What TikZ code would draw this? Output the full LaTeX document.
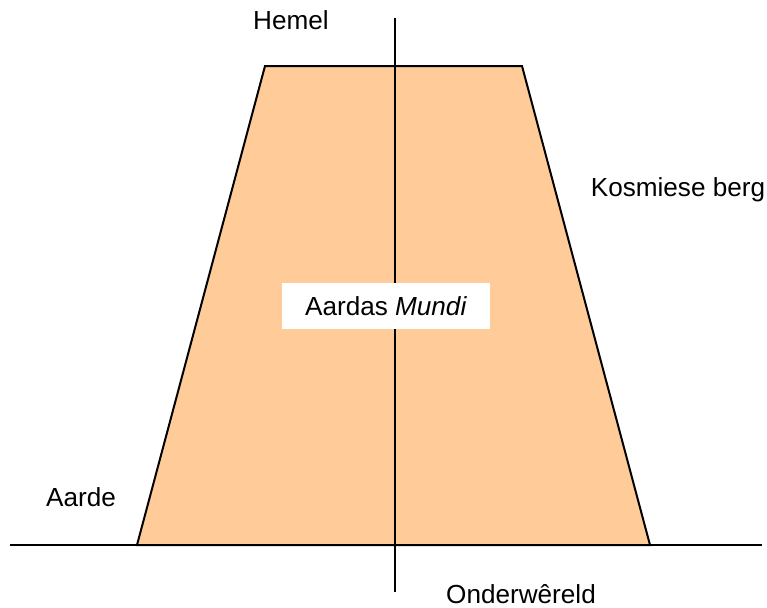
\documentclass[tikz,border=0pt]{standalone}
\usepackage{fontspec}
\setmainfont{Liberation Sans}
\usetikzlibrary{positioning}
\definecolor{Mountain}{HTML}{FFCC99}
\definecolor{Ink}{HTML}{000000}

\begin{document}
\begin{tikzpicture}[x=0.75pt,y=-0.75pt,every node/.style={font=\fontsize{19.6}{23}\selectfont,text=Ink,inner sep=1pt},axis/.style={draw=Ink,line width=1.5pt},mountain/.style={fill=Mountain,draw=Ink,line width=1.5pt},labelbox/.style={fill=white,minimum width=156pt,minimum height=35pt,inner sep=0pt}]
\useasboundingbox (0,0) rectangle (767,607);
\filldraw[mountain] (137,545)--(265,66)--(522,66)--(650,545)--cycle;
\coordinate (axtop) at (395,18);
\coordinate (axbot) at (395,592);
\coordinate (grl) at (10,545);
\coordinate (grr) at (762,545);
\draw[axis] (axtop)--(axbot);
\draw[axis] (grl)--(grr);
\node[labelbox](mundi) at (386,306){Aardas \textit{Mundi}};
\node(hemel) at (291,20){Hemel};
\node(berg) at (678,190){Kosmiese berg};
\node(aarde) at (81,497){Aarde};
\node(onder) at (521,594){Onderwêreld};
\end{tikzpicture}
\end{document}
